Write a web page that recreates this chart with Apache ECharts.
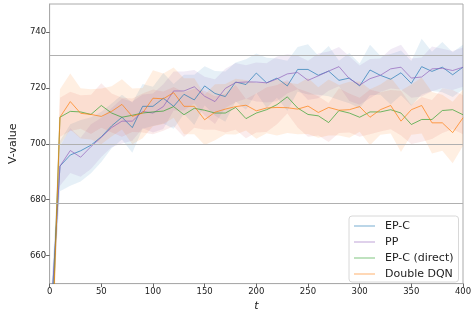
<!DOCTYPE html>
<html>
<head>
<meta charset="utf-8">
<script src="https://cdn.jsdelivr.net/npm/echarts@6/dist/echarts.min.js"></script>
<style>html,body{margin:0;padding:0;background:#fff}#c{width:476px;height:317px}</style>
</head>
<body>
<div id="c"></div>
<script>
var steps = [0,10,20,30,40,50,60,70,80,90,100,110,120,130,140,150,160,170,180,190,200,210,220,230,240,250,260,270,280,290,300,310,320,330,340,350,360,370,380,390,400];
var seriesNames = ['EP-C', 'PP', 'EP-C (direct)', 'Double DQN'];
var epc = [630,692,696,697.5,699.5,702.5,706.4,709.5,705.8,713.4,713.4,716.3,713.4,717.7,715.7,720.7,718,716.9,722.1,721.2,725.3,721.8,723.5,720.7,726.6,726.6,724.5,726,722.7,723.5,720.7,726.4,724.5,723.1,725.4,721.6,727.6,725.9,727.4,724.7,727.4];
var pp = [630,692,697.6,695.2,699,702.3,705.8,708.1,708.1,711.6,711,713.3,718.9,718.9,720.4,717,715.1,719.8,721.9,722.1,722.1,721.8,723.2,725,725.5,722.7,724.3,726,727.6,723.3,721,723.3,724.5,726.8,727.4,723.5,723.9,726.8,727,726.2,727.4];
var epcDirect = [605,709.5,711.6,711.4,710.5,713.7,711,709.5,710.2,711,711.4,711.7,713.3,710.4,712.7,712,711,711,713,709,711,712.2,714,716.8,712.8,710.5,710,707.6,711.9,711,709.5,711.4,711.4,712.2,711,706.9,708.7,708.7,711.9,712.2,710.4];
var ddqn = [600,709.5,715.1,710.9,710.5,709.8,711.6,714.1,709.8,711,716.3,716.1,718.3,713.4,713.4,708.6,711.3,712.4,713.3,713.8,711.8,712.8,713,712.9,712.4,713.5,711.2,713,712,712.2,713.3,709.5,712.2,713.7,708.1,712.2,713.7,707.5,707.5,704,709.3];
// half-widths of the shaded bands
var epcSpread = [8,9,11,11,10,9,8,8,9,8,7,9,8,7,9,7,8,9,7,9,7,9,7,9,8,9,7,9,7,9,8,9,7,9,8,8,10,7,9,8,8];
var ppSpread = [6,7,8,7,8,7,7,8,7,6,7,8,7,7,6,7,8,7,7,6,7,7,8,7,6,7,8,7,7,8,7,7,6,7,8,7,7,8,7,7,7];
var epcDirectSpread = [7,7,7,6,7,8,7,7,6,7,8,7,7,8,7,7,6,7,8,7,7,8,7,6,7,8,7,7,8,7,7,8,7,7,8,7,8,7,8,7,7];
var ddqnSpread = [10,10,10,9,9,10,9,9,10,9,10,9,9,10,10,9,10,9,10,9,10,9,10,9,9,10,9,10,9,10,9,10,9,10,11,9,10,11,10,11,10];
var refLines = [731.6, 700, 678.8];
var yTicks = [660, 680, 700, 720, 740];

var lineColors = ['rgba(31,119,180,0.68)','rgba(148,103,189,0.72)','rgba(44,160,44,0.68)','rgba(255,127,14,0.7)'];
var legendColors = ['rgba(31,119,180,0.3)','rgba(148,103,189,0.3)','rgba(44,160,44,0.3)','rgba(255,127,14,0.3)'];
var bandColors = ['rgba(31,119,180,0.11)','rgba(148,103,189,0.13)','rgba(214,39,40,0.09)','rgba(255,127,14,0.12)'];

var means = [epc, pp, epcDirect, ddqn];
var spreads = [epcSpread, ppSpread, epcDirectSpread, ddqnSpread];

function bandRenderer(i) {
  return function (params, api) {
    if (params.dataIndex !== 0) return null;
    var m = means[i], sp = spreads[i];
    var pts = [];
    for (var k = 0; k < steps.length; k++) pts.push(api.coord([steps[k], m[k] + sp[k]]));
    for (var k2 = steps.length - 1; k2 >= 0; k2--) pts.push(api.coord([steps[k2], m[k2] - sp[k2]]));
    var cs = params.coordSys;
    return {
      type: 'group',
      clipPath: {type: 'rect', shape: {x: cs.x, y: cs.y, width: cs.width, height: cs.height}},
      children: [{type: 'polygon', shape: {points: pts}, style: {fill: bandColors[i], stroke: null}}]
    };
  };
}

var series = [];
series.push({
  name: 'ref', type: 'line', data: [], silent: true, z: 1,
  markLine: {
    silent: true, symbol: 'none', animation: false,
    label: {show: false},
    lineStyle: {color: '#b0b0b0', type: 'solid', width: 1},
    data: refLines.map(function (v) { return {yAxis: v}; })
  }
});
means.forEach(function (m, i) {
  series.push({
    name: 'band-' + i, type: 'custom', silent: true, z: 2,
    renderItem: bandRenderer(i),
    encode: {x: 0, y: [1, 2]},
    data: steps.map(function (t, k) { return [t, m[k] - spreads[i][k], m[k] + spreads[i][k]]; })
  });
});
means.forEach(function (m, i) {
  series.push({
    name: seriesNames[i], type: 'line', symbol: 'none', z: 3,
    lineStyle: {color: lineColors[i], width: 1},
    itemStyle: {color: legendColors[i]},
    data: steps.map(function (t, k) { return [t, m[k]]; })
  });
});

var chart = echarts.init(document.getElementById('c'), null, {renderer: 'canvas'});
chart.setOption({
  animation: false,
  textStyle: {fontFamily: 'DejaVu Sans'},
  grid: {left: 36, right: 13, top: 4, bottom: 28, show: true, borderColor: '#aaaaaa', borderWidth: 1, backgroundColor: 'transparent'},
  legend: {
    data: seriesNames.map(function (n, i) {
      return {name: n, icon: 'rect', itemStyle: {color: legendColors[i]}, lineStyle: {color: legendColors[i]}};
    }),
    orient: 'vertical', left: 349, top: 216, itemWidth: 21, itemHeight: 2, itemGap: 2,
    padding: [3, 5, 1, 5], backgroundColor: '#fff', borderColor: '#d8d8d8', borderWidth: 1, borderRadius: 3,
    textStyle: {fontFamily: 'DejaVu Sans', fontSize: 11, color: '#222', lineHeight: 14, padding: [0, 0, 0, 5]}
  },
  xAxis: {
    type: 'value', min: 0, max: 400, interval: 50,
    name: 't', nameLocation: 'middle', nameGap: 13,
    nameTextStyle: {fontFamily: 'DejaVu Sans', fontSize: 11, fontStyle: 'italic', color: '#222'},
    axisLine: {lineStyle: {color: '#aaaaaa'}},
    axisTick: {show: true, length: 3.5, lineStyle: {color: '#666'}},
    axisLabel: {fontSize: 8.5, color: '#222', margin: 3.5, fontFamily: 'DejaVu Sans'},
    splitLine: {show: false}
  },
  yAxis: {
    type: 'value', min: 650, max: 750,
    name: 'V-value', nameLocation: 'middle', nameGap: 28,
    nameTextStyle: {fontFamily: 'DejaVu Sans', fontSize: 11, color: '#222'},
    axisLine: {show: true, lineStyle: {color: '#aaaaaa'}},
    axisTick: {show: true, length: 3.5, lineStyle: {color: '#666'}, customValues: yTicks},
    axisLabel: {fontSize: 8.5, color: '#222', margin: 3.5, fontFamily: 'DejaVu Sans', customValues: yTicks},
    splitLine: {show: false}
  },
  series: series
});
</script>
</body>
</html>
